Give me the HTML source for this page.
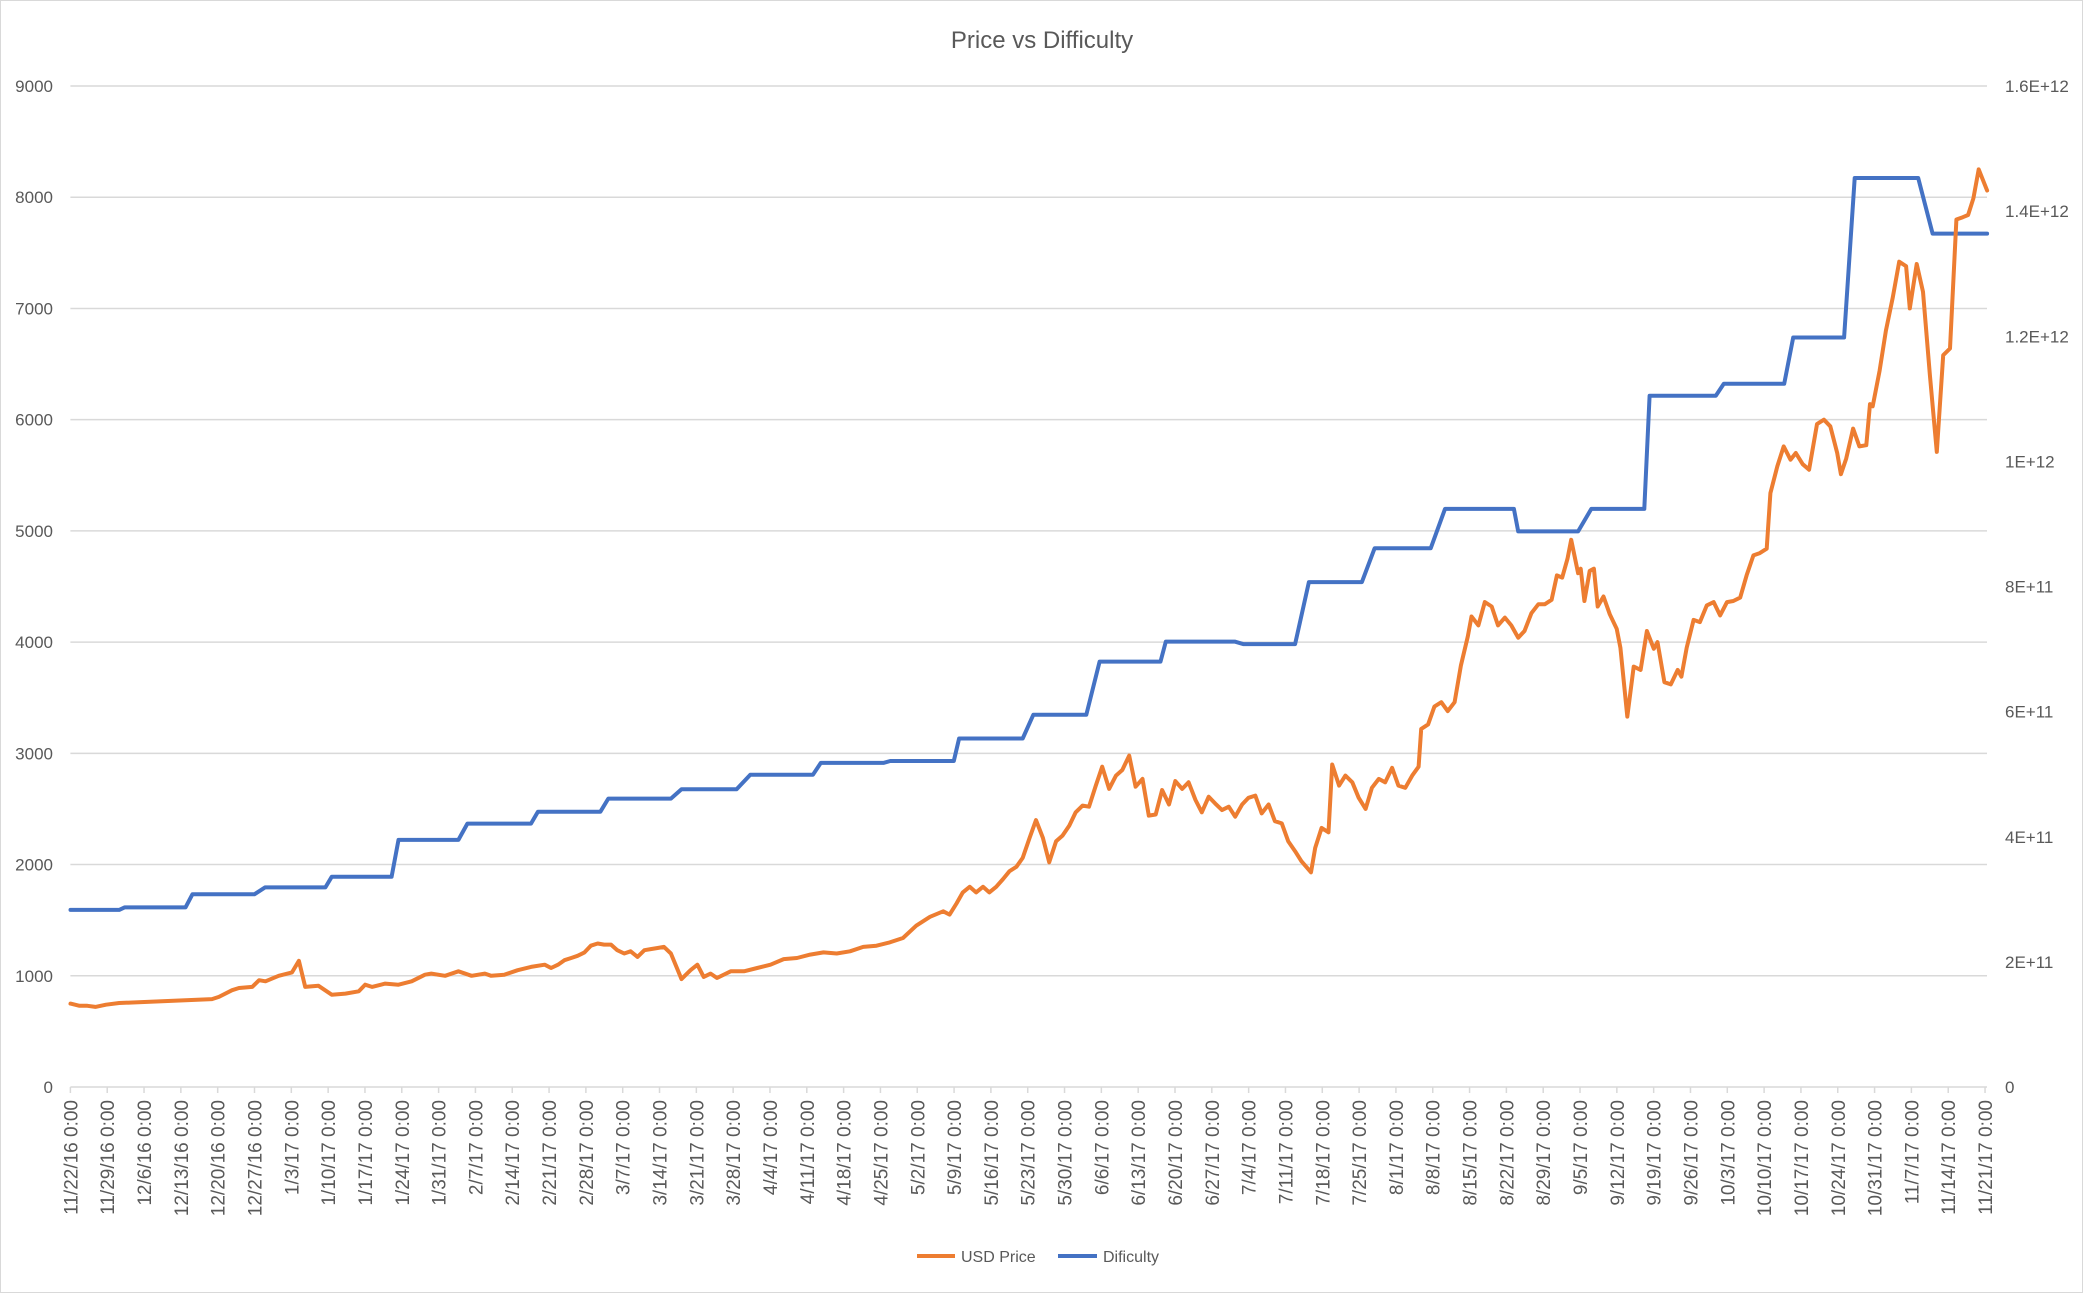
<!DOCTYPE html>
<html><head><meta charset="utf-8"><style>
html,body{margin:0;padding:0;background:#fff}
svg{display:block}
text{font-family:"Liberation Sans",sans-serif;fill:#595959}
</style></head><body>
<svg id="chart" width="2083" height="1293" viewBox="0 0 2083 1293" xmlns="http://www.w3.org/2000/svg">
<rect x="0.5" y="0.5" width="2082" height="1292" fill="#fff" stroke="#d9d9d9" stroke-width="1"/>
<text x="1042" y="48" font-size="24" text-anchor="middle">Price vs Difficulty</text>
<g id="grid"></g>
<g id="ylabels"></g>
<g id="y2labels"></g>
<g id="xaxis"></g>
<g id="series"></g>
<g>
<line x1="917" y1="1256" x2="955" y2="1256" stroke="#ED7D31" stroke-width="4"/>
<text x="961" y="1262" font-size="16">USD Price</text>
<line x1="1058" y1="1256" x2="1097" y2="1256" stroke="#4472C4" stroke-width="4"/>
<text x="1103" y="1262" font-size="16">Dificulty</text>
</g>
</svg>
<script>
const leftTicks=[0,1000,2000,3000,4000,5000,6000,7000,8000,9000];
const rightTickLabels=["0","2E+11","4E+11","6E+11","8E+11","1E+12","1.2E+12","1.4E+12","1.6E+12"];
const rightTickValues=[0,2e11,4e11,6e11,8e11,1e12,1.2e12,1.4e12,1.6e12];
const dateLabels=["11/22/16","11/29/16","12/6/16","12/13/16","12/20/16","12/27/16","1/3/17","1/10/17","1/17/17","1/24/17","1/31/17","2/7/17","2/14/17","2/21/17","2/28/17","3/7/17","3/14/17","3/21/17","3/28/17","4/4/17","4/11/17","4/18/17","4/25/17","5/2/17","5/9/17","5/16/17","5/23/17","5/30/17","6/6/17","6/13/17","6/20/17","6/27/17","7/4/17","7/11/17","7/18/17","7/25/17","8/1/17","8/8/17","8/15/17","8/22/17","8/29/17","9/5/17","9/12/17","9/19/17","9/26/17","10/3/17","10/10/17","10/17/17","10/24/17","10/31/17","11/7/17","11/14/17","11/21/17"];
const priceDays=[3.3,5,6.5,8,10,12.5,15,20,25,30,31.3,33.8,35.1,37.6,38.9,40.1,42.6,45.1,46.4,47.6,50.1,52.6,55.2,57.7,58.9,60.2,62.7,65.2,67.7,70.2,71.4,74,76.5,79,81.5,82.7,85.2,87.7,90.2,92.8,94,95.3,96.5,97.8,99,100.3,101.5,102.8,104,105.3,106.5,107.8,109,110.3,111.6,112.8,114.1,115.3,116.6,118.6,120.3,121.6,122.8,124.1,125.3,127.9,130.4,132.9,135.4,137.9,140.4,142.9,145.4,147.9,150.4,152.9,155.4,157.9,160.4,162.9,165.5,168,169.2,170.5,171.7,173,174.2,175.5,176.7,178,179.3,180.5,181.8,183,184.3,185.5,186.8,188,189.3,190.5,191.8,193,194.3,195.5,196.8,198,199.3,200.6,201.8,203.1,204.3,205.6,206.8,208.1,209.3,210.6,211.8,213.1,214.3,215.6,216.8,218.1,219.3,220.6,221.9,223.1,224.4,225.6,226.9,228.1,229.4,230.6,231.9,233.1,234.4,235.6,237.4,238.2,239.4,240.7,241.4,242.7,243.9,245.2,246.4,247.7,248.9,250.2,251.4,252.7,253.9,255.2,256.5,257.7,258.2,259.5,260.7,262,263.2,264.5,265.7,267,267.7,269,270.2,271.5,272.7,274,275.2,276.5,277.7,279,280.3,281.5,282.8,283.8,284.8,285.8,286.5,287.8,288.3,289,290,290.8,291.5,292.6,293.8,295.1,295.8,297.1,298.3,299.6,300.8,302.1,302.8,304.1,305.3,306.6,307.3,308.3,309.6,310.8,312.1,313.4,314.6,315.9,317.1,318.4,319.6,320.9,322.1,323.4,324.1,325.4,326.6,327.9,328.9,330.2,331.4,332.9,334.2,335.4,336.7,337.4,338.4,339.7,340.9,342.2,342.9,343.4,344.7,345.9,347.2,348.4,349.7,350.4,351.7,352.9,354.2,355.5,356.7,358,359.2,360.4,361.4,362.4,363.4,365];
const priceValues=[750,730,730,720,740,755,760,770,780,790,810,870,890,900,960,950,1000,1030,1135,900,910,830,840,860,920,900,930,920,950,1010,1020,1000,1040,1000,1020,1000,1010,1050,1080,1100,1070,1100,1140,1160,1180,1210,1270,1290,1280,1280,1230,1200,1220,1170,1230,1240,1250,1260,1200,970,1050,1100,990,1020,980,1040,1040,1070,1100,1150,1160,1190,1210,1200,1220,1260,1270,1300,1340,1450,1530,1580,1550,1650,1750,1800,1750,1800,1750,1800,1870,1940,1980,2060,2240,2400,2240,2020,2210,2260,2350,2470,2530,2520,2710,2880,2680,2800,2850,2980,2700,2770,2440,2450,2670,2540,2750,2680,2740,2580,2470,2610,2550,2490,2520,2430,2540,2600,2620,2460,2540,2390,2370,2210,2120,2030,1930,2150,2330,2290,2900,2710,2800,2740,2600,2500,2690,2770,2740,2870,2710,2690,2800,2880,3220,3260,3420,3460,3380,3460,3790,4050,4230,4150,4360,4320,4150,4220,4150,4040,4100,4260,4340,4340,4380,4600,4580,4750,4920,4620,4660,4370,4640,4660,4320,4410,4250,4120,3950,3330,3780,3750,4100,3940,4000,3640,3620,3750,3690,3950,4200,4180,4330,4360,4240,4360,4370,4400,4600,4780,4800,4840,5340,5580,5760,5640,5700,5600,5550,5960,6000,5940,5700,5510,5650,5920,5760,5770,6140,6120,6440,6800,7100,7420,7380,7000,7400,7150,6400,5710,6580,6640,7800,7820,7840,7990,8250,8060];
const diffDays=[3.3,12.5,13.5,25,26.3,38,40,51.4,52.6,63.9,65.2,76.5,78.2,90.2,91.5,103.3,104.8,116.6,118.6,129,131.6,143.4,144.9,156.7,158,170,171,183,185,195,197.5,209,210,223,224.6,234.4,237,247,249.4,260,262.7,275.7,276.5,287.8,290.3,300.3,301.3,313.8,315.3,326.7,328.4,338,340,352,354.7,365];
const diffValues=[2.83e11,2.83e11,2.87e11,2.87e11,3.08e11,3.08e11,3.19e11,3.19e11,3.36e11,3.36e11,3.95e11,3.95e11,4.21e11,4.21e11,4.40e11,4.40e11,4.61e11,4.61e11,4.76e11,4.76e11,4.99e11,4.99e11,5.18e11,5.18e11,5.21e11,5.21e11,5.57e11,5.57e11,5.95e11,5.95e11,6.80e11,6.80e11,7.12e11,7.12e11,7.08e11,7.08e11,8.07e11,8.07e11,8.61e11,8.61e11,9.24e11,9.24e11,8.88e11,8.88e11,9.24e11,9.24e11,11.05e11,11.05e11,11.24e11,11.24e11,11.98e11,11.98e11,14.53e11,14.53e11,13.64e11,13.64e11];

const NS="http://www.w3.org/2000/svg";
const PL=70.4,PR=1987,Y0=1087,YT=86;
const DX0=53,DK=5.299;
function xScale(d){return DX0+d*DK;}
function tickDay(i){return (PL-DX0+i*36.82)/DK;}
function yLeft(p){return Y0-p*(Y0-YT)/9000;}
function yRight(v){return Y0-v*(Y0-YT)/1.6e12;}
function mk(tag,attrs,parent){const e=document.createElementNS(NS,tag);for(const k in attrs)e.setAttribute(k,attrs[k]);parent.appendChild(e);return e;}

const grid=document.getElementById('grid');
const yl=document.getElementById('ylabels');
leftTicks.forEach(function(t){
  const y=yLeft(t);
  if(t>0){const g=mk('line',{x1:PL,x2:PR,y1:y,y2:y,stroke:'#d9d9d9','stroke-width':1.5},grid);
  
  }
  const tx=mk('text',{x:53,y:y+6,'font-size':17,'text-anchor':'end'},yl);
  tx.textContent=String(t);
  
  
});
const y2=document.getElementById('y2labels');
rightTickValues.forEach(function(v,i){
  const tx=mk('text',{x:2005,y:yRight(v)+6,'font-size':17,'text-anchor':'start'},y2);
  tx.textContent=rightTickLabels[i];
  
  
});
const xa=document.getElementById('xaxis');
const axl=mk('line',{x1:PL,x2:PR,y1:Y0,y2:Y0,stroke:'#d9d9d9','stroke-width':1.5},xa);


dateLabels.forEach(function(lbl,i){
  const x=xScale(tickDay(i));
  const tk=mk('line',{x1:x,x2:x,y1:Y0,y2:Y0+6,stroke:'#d9d9d9','stroke-width':1.5},xa);
  
  
  const tx=mk('text',{x:0,y:0,'font-size':19,'text-anchor':'end',transform:'translate('+(x+7)+','+(Y0+13)+') rotate(-90)'},xa);
  tx.textContent=lbl+' 0:00';
  
  
});
const ser=document.getElementById('series');
let dP='';diffDays.forEach(function(d,i){dP+=(i?'L':'M')+xScale(d).toFixed(1)+' '+yRight(diffValues[i]).toFixed(1);});
const pd=mk('path',{d:dP,fill:'none',stroke:'#4472C4','stroke-width':4,'stroke-linejoin':'round','stroke-linecap':'round'},ser);


let pP='';priceDays.forEach(function(d,i){pP+=(i?'L':'M')+xScale(d).toFixed(1)+' '+yLeft(priceValues[i]).toFixed(1);});
const pp=mk('path',{d:pP,fill:'none',stroke:'#ED7D31','stroke-width':4,'stroke-linejoin':'round','stroke-linecap':'round'},ser);


</script>
</body></html>
